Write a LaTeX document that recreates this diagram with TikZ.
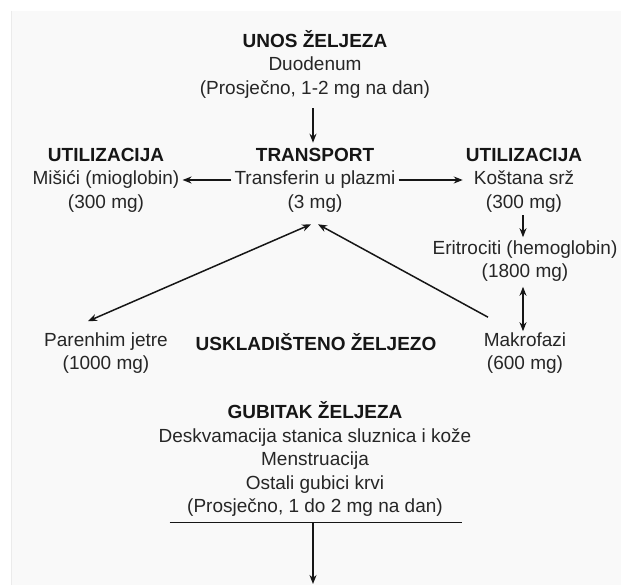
\documentclass[tikz,border=0pt]{standalone}
\usepackage{fontspec}
\setmainfont{Liberation Sans}
\usepackage{tikz}
\usetikzlibrary{arrows.meta}

\definecolor{tekst}{HTML}{262626}
\definecolor{crna}{HTML}{161616}
\definecolor{podloga}{HTML}{F9F9F9}

\begin{document}
\begin{tikzpicture}[x=1pt, y=-1pt,
    blok/.style={align=center, text=tekst, inner sep=3pt,
      font=\fontsize{19}{23.5}\selectfont},
    naslov/.style={font=\fontsize{19}{23.5}\selectfont\bfseries, text=crna},
    strelica/.style={-{Stealth[length=9pt,width=7pt]}, line width=1.5pt, crna},
    dvostruka/.style={{Stealth[length=9pt,width=7pt]}-{Stealth[length=9pt,width=7pt]}, line width=1.5pt, crna}]

    % Draw background
    \useasboundingbox (0,0) rectangle (621,585);
    \fill[white] (0,0) rectangle (621,585);
    \fill[podloga] (11,11) rectangle (621,585);
    \draw[black!8, line width=0.8pt] (11,11) -- (11,585);

    % Place nodes
    \node[blok] (unos) at (315,64) {{\bfseries\color{crna}UNOS ŽELJEZA}\\Duodenum\\(Prosječno, 1-2 mg na dan)};
    \node[blok] (transport) at (315,180) {{\bfseries\color{crna}TRANSPORT}\\Transferin u plazmi\\(3 mg)};
    \node[blok] (misici) at (106,180) {{\bfseries\color{crna}UTILIZACIJA}\\Mišići (mioglobin)\\(300 mg)};
    \node[blok] (kost) at (524,180) {{\bfseries\color{crna}UTILIZACIJA}\\Koštana srž\\(300 mg)};
    \node[blok] (eritrociti) at (525,261) {Eritrociti (hemoglobin)\\(1800 mg)};
    \node[blok] (makrofazi) at (525,353) {Makrofazi\\(600 mg)};
    \node[blok] (jetra) at (106,353) {Parenhim jetre\\(1000 mg)};
    \node[blok, naslov] (skladiste) at (316,342) {USKLADIŠTENO ŽELJEZO};
    \node[blok] (gubitak) at (315,459) {{\bfseries\color{crna}GUBITAK ŽELJEZA}\\Deskvamacija stanica sluznica i kože\\Menstruacija\\Ostali gubici krvi\\(Prosječno, 1 do 2 mg na dan)};
    \coordinate (izlaz) at (313,584);

    % Draw arrows
    \draw[strelica] ([xshift=-2pt,yshift=-7pt]unos.south) -- ([xshift=-2pt,yshift=2pt]transport.north);
    \draw[strelica] (transport.west) -- (misici.east);
    \draw[strelica] (transport.east) -- (kost.west);
    \draw[strelica] ([xshift=-1pt]kost.south) -- ([xshift=-2pt]eritrociti.north);
    \draw[dvostruka] ([xshift=-2pt,yshift=-2pt]eritrociti.south) -- ([xshift=-2pt,yshift=-2pt]makrofazi.north);
    \draw[dvostruka] ([xshift=-4pt,yshift=-9pt]transport.south) -- ([xshift=-18pt,yshift=8pt]jetra.north);
    \draw[strelica] ([xshift=-37pt,yshift=12pt]makrofazi.north) -- ([xshift=3pt,yshift=-9pt]transport.south);

    % Draw loss line
    \draw[crna, line width=1.4pt] ([xshift=14pt,yshift=-3pt]gubitak.south west) -- ([xshift=-12pt,yshift=-3pt]gubitak.south east);
    \draw[strelica] ([xshift=-2pt,yshift=-3pt]gubitak.south) -- (izlaz);
\end{tikzpicture}
\end{document}
